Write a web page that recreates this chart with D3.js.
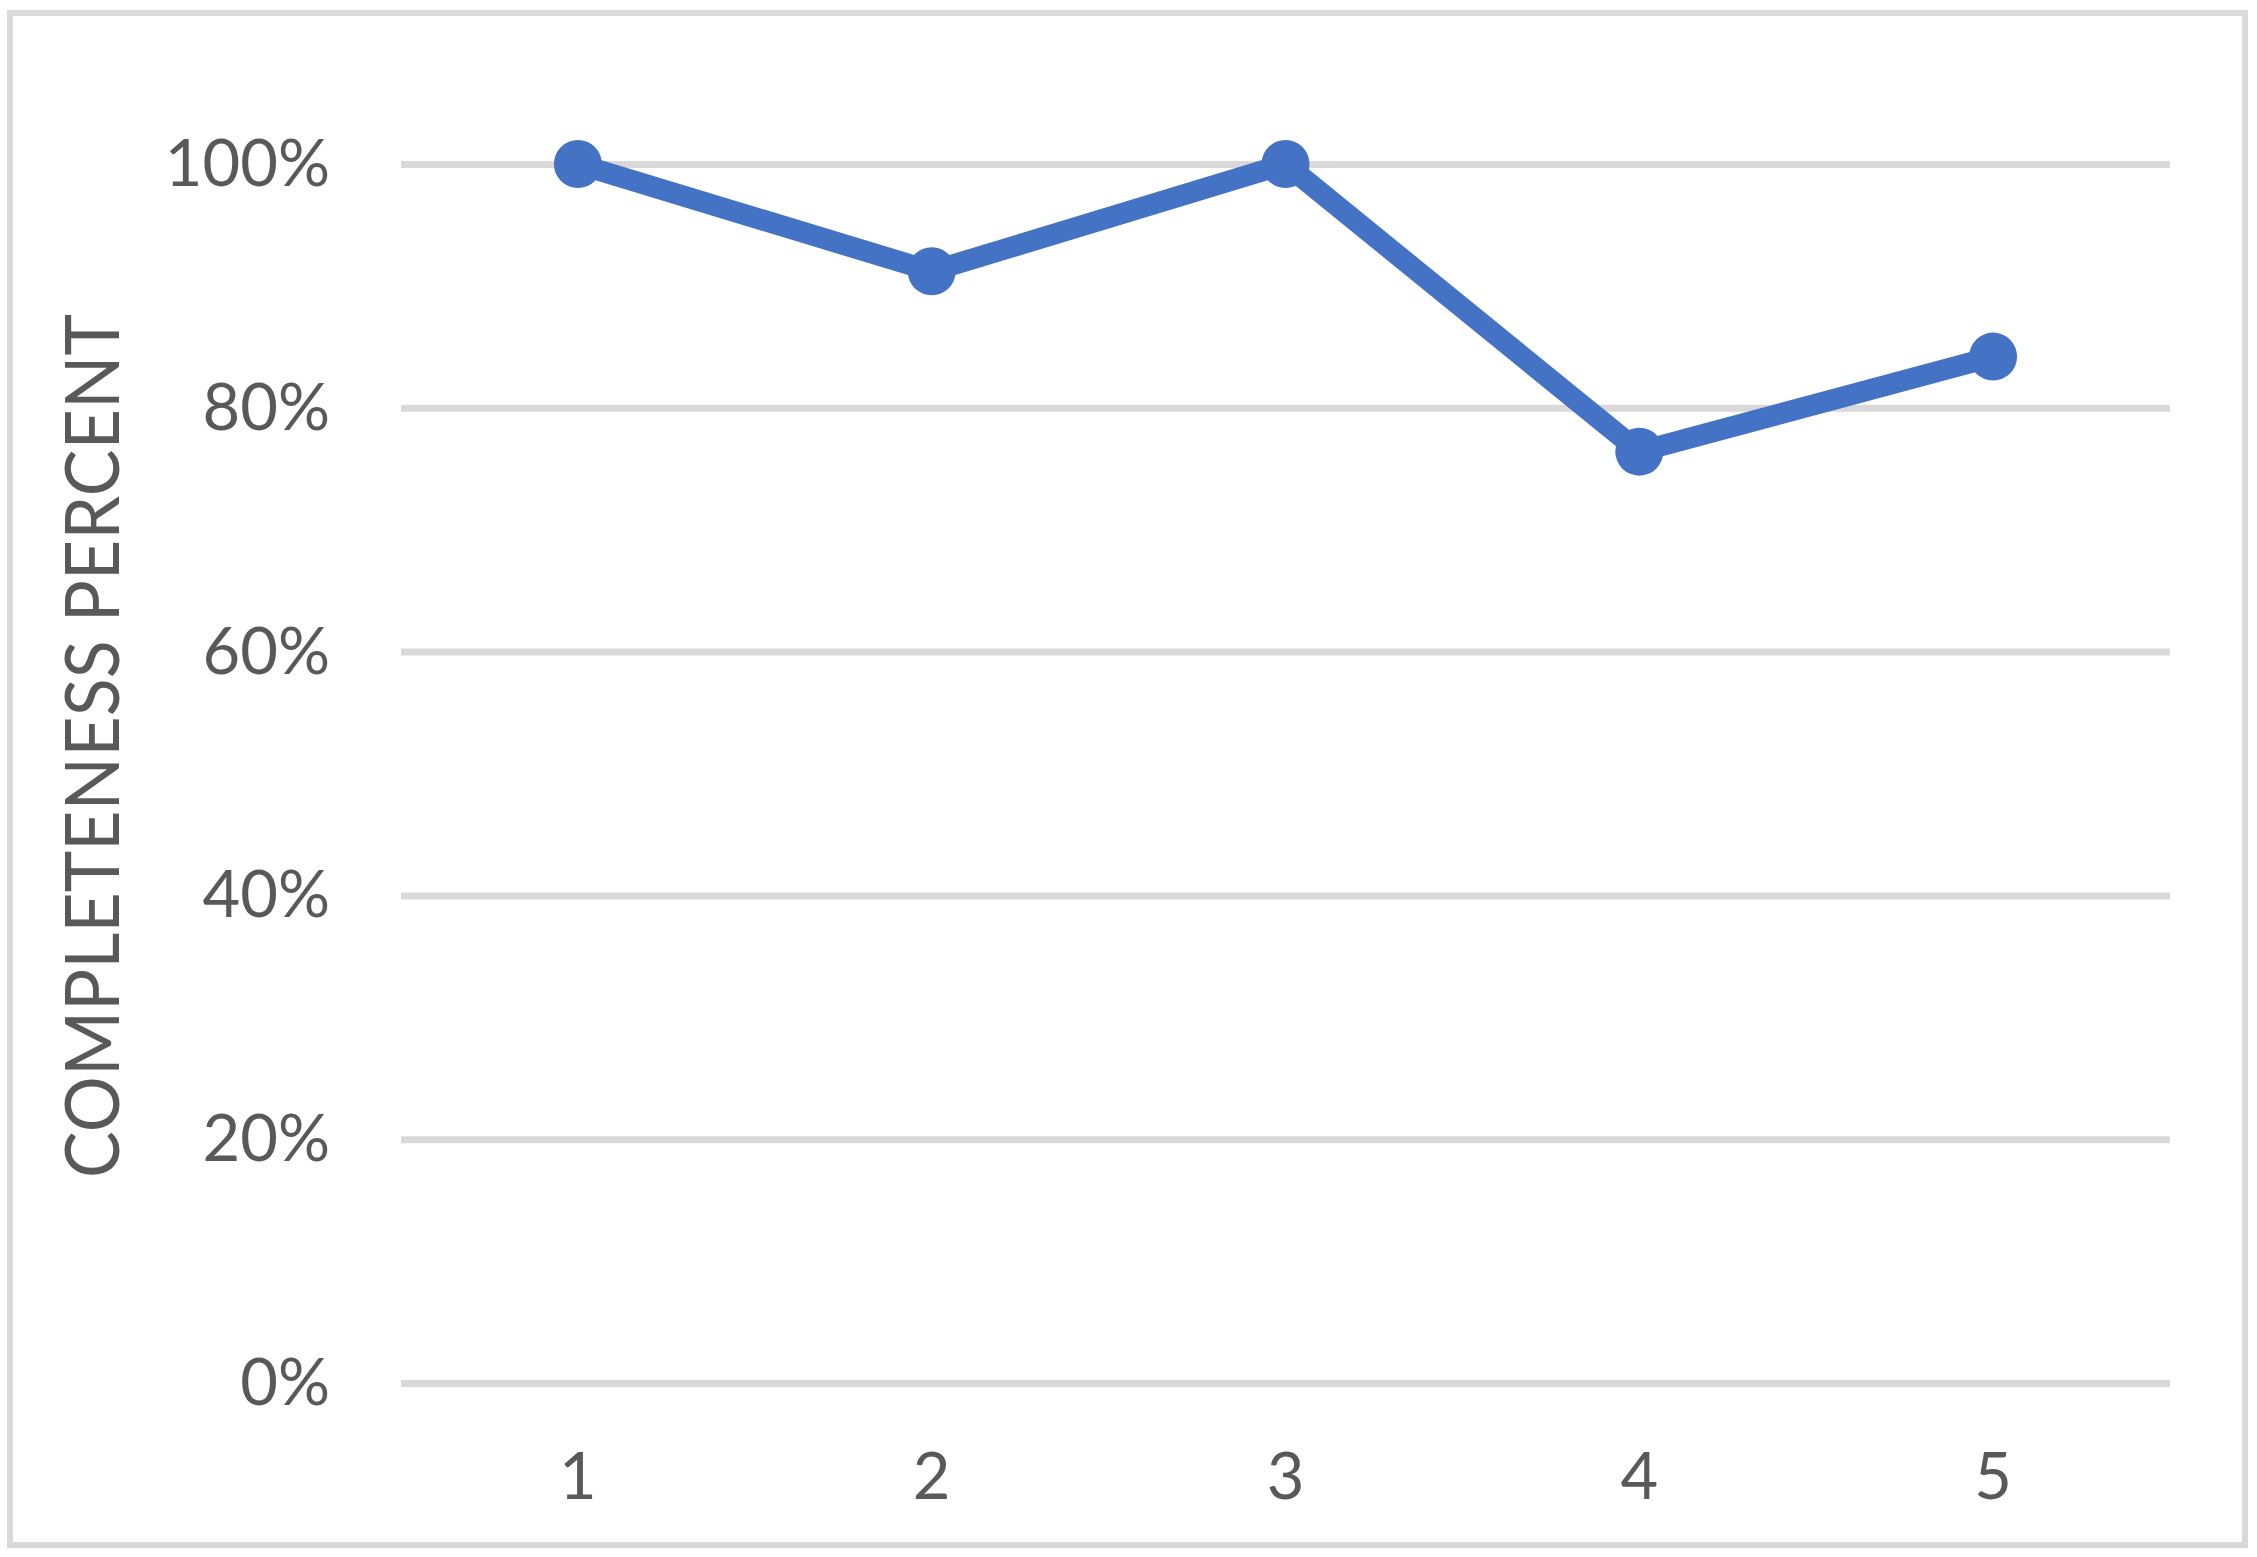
<!DOCTYPE html>
<html>
<head>
<meta charset="utf-8">
<script src="https://cdn.jsdelivr.net/npm/d3@7"></script>
<style>
  body { margin: 0; background: #fff; }
  text { font-family: Lato, "Open Sans", sans-serif; fill: #595959; }
</style>
</head>
<body>
<div id="chart"></div>
<script>
// chart data
var categories = ["1", "2", "3", "4", "5"];
var completeness = [1.00, 0.912, 1.00, 0.764, 0.842];
var yTicks = [0, 0.2, 0.4, 0.6, 0.8, 1.0];

var svgWidth = 2257;
var svgHeight = 1557;

var margin = { top: 164, right: 87, bottom: 174, left: 401 };
var chartWidth = svgWidth - margin.left - margin.right;
var chartHeight = svgHeight - margin.top - margin.bottom;

var svg = d3.select("#chart")
  .append("svg")
  .attr("width", svgWidth)
  .attr("height", svgHeight);

// outer frame
svg.append("rect")
  .attr("x", 10)
  .attr("y", 13)
  .attr("width", 2235)
  .attr("height", 1532)
  .attr("fill", "#fff")
  .attr("stroke", "#d9d9d9")
  .attr("stroke-width", 6);

var chartGroup = svg.append("g")
  .attr("transform", `translate(${margin.left}, ${margin.top})`);

var xScale = d3.scaleBand()
  .domain(categories)
  .range([0, chartWidth]);

var yScale = d3.scaleLinear()
  .domain([0, 1])
  .range([chartHeight, 0]);

// gridlines + y labels
var leftAxis = d3.axisLeft(yScale)
  .tickValues(yTicks)
  .tickSize(-chartWidth)
  .tickPadding(71)
  .tickFormat(d3.format(".0%"));

var yAxis = chartGroup.append("g").call(leftAxis);
yAxis.select(".domain").remove();
yAxis.selectAll("line")
  .attr("stroke", "#d9d9d9")
  .attr("stroke-width", 7);
yAxis.selectAll("text")
  .attr("font-size", 65)
  .attr("fill", "#595959")
  .attr("dy", "0.33em");

// x labels
var bottomAxis = d3.axisBottom(xScale).tickSize(0).tickPadding(70);
var xAxis = chartGroup.append("g")
  .attr("transform", `translate(0, ${chartHeight})`)
  .call(bottomAxis);
xAxis.select(".domain").remove();
xAxis.selectAll("text")
  .attr("font-size", 65)
  .attr("fill", "#595959");

// line
var line = d3.line()
  .x((d, i) => xScale(categories[i]) + xScale.bandwidth() / 2)
  .y(d => yScale(d));

chartGroup.append("path")
  .datum(completeness)
  .attr("d", line)
  .attr("fill", "none")
  .attr("stroke", "#4472c4")
  .attr("stroke-width", 21)
  .attr("stroke-linejoin", "round");

chartGroup.selectAll("circle")
  .data(completeness)
  .enter()
  .append("circle")
  .attr("cx", (d, i) => xScale(categories[i]) + xScale.bandwidth() / 2)
  .attr("cy", d => yScale(d))
  .attr("r", 24)
  .attr("fill", "#4472c4");

// y axis title
svg.append("text")
  .attr("transform", "translate(119, 746) rotate(-90)")
  .attr("text-anchor", "middle")
  .attr("font-size", 75)
  .attr("textLength", 864)
  .attr("lengthAdjust", "spacingAndGlyphs")
  .text("COMPLETENESS PERCENT");
</script>
</body>
</html>
